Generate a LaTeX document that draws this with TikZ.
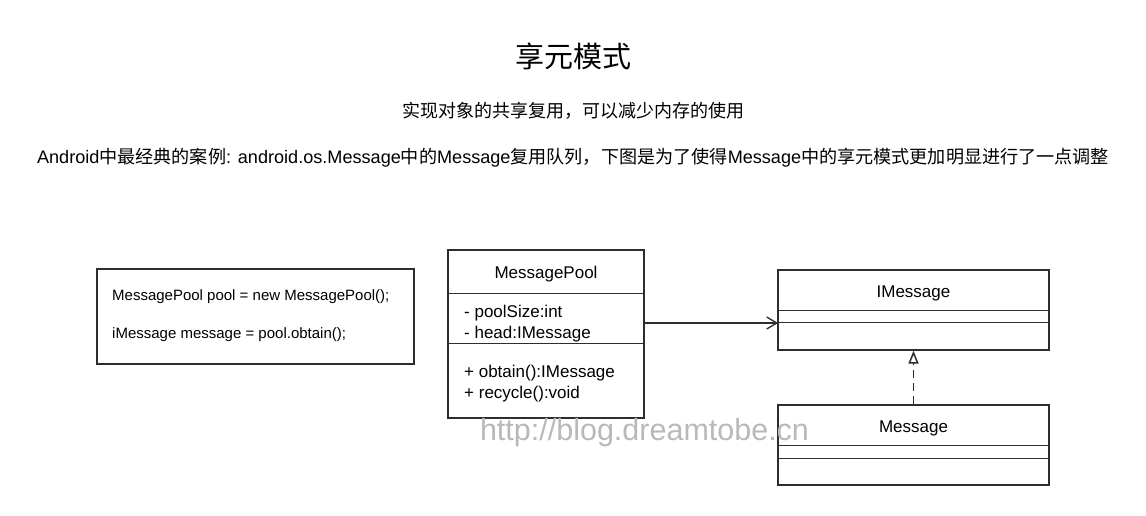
\documentclass[tikz,border=0pt]{standalone}
\usepackage{fontspec}
\setmainfont{Liberation Sans}
\newfontfamily\cjk{Noto Sans CJK SC}
\usetikzlibrary{arrows.meta}
\pgfdeclarelayer{edgelayer}
\pgfdeclarelayer{nodelayer}
\pgfsetlayers{edgelayer,nodelayer,main}
\definecolor{ink}{RGB}{45,45,45}
\definecolor{wmark}{RGB}{185,185,185}
\tikzset{x=1pt,y=-1pt}
\tikzstyle{none}=[inner sep=0pt]
\tikzstyle{box}=[draw=ink,line width=1.3pt,rectangle,inner sep=0pt]
\tikzstyle{sep}=[draw=ink,line width=1.3pt]
\tikzstyle{label}=[inner sep=0pt,anchor=base west,font=\fontsize{17}{20}\selectfont]
\tikzstyle{cls}=[inner sep=0pt,anchor=base,font=\fontsize{17}{20}\selectfont]
\tikzstyle{code}=[inner sep=0pt,anchor=base west,font=\fontsize{15}{18}\selectfont]

\begin{document}
\begin{tikzpicture}
	\useasboundingbox (0,0) rectangle (1146,516);
	\begin{pgfonlayer}{nodelayer}
		% headings
		\node [style=none,font=\cjk\fontsize{29}{34}\selectfont] (t0) at (573,56) {享元模式};
		\node [style=none,font=\cjk\fontsize{18}{22}\selectfont] (t1) at (573,111) {实现对象的共享复用，可以减少内存的使用};
		\node [style=none,font=\fontsize{18.1}{22}\selectfont] (t2) at (573,158) {Android{\cjk 中最经典的案例}: android.os.Message{\cjk 中的}Message{\cjk 复用队列，下图是为了使得}Message{\cjk 中的享元模式更加明显进行了一点调整}};
		% client code
		\node [style=box,minimum width=317,minimum height=95] (0) at (255.5,316.5) {};
		\node [style=code] (c1) at (112,300) {MessagePool pool = new MessagePool();};
		\node [style=code] (c2) at (112,338) {iMessage message = pool.obtain();};
		% MessagePool
		\node [style=box,minimum width=196,minimum height=168] (1) at (546,334) {};
		\node [style=cls] (n1) at (546,278) {MessagePool};
		\node [style=label] (a1) at (464,317) {- poolSize:int};
		\node [style=label] (a2) at (464,338) {- head:IMessage};
		\node [style=label] (m1) at (464,377) {+ obtain():IMessage};
		\node [style=label] (m2) at (464,398) {+ recycle():void};
		% IMessage
		\node [style=box,minimum width=271,minimum height=80] (2) at (913.5,310) {};
		\node [style=cls] (n2) at (913.5,297) {IMessage};
		% Message
		\node [style=box,minimum width=271,minimum height=80] (3) at (913.5,445) {};
		\node [style=cls] (n3) at (913.5,432) {Message};
		% arrow ends
		\node [style=none] (4) at (645,323) {};
		\node [style=none] (5) at (778,323) {};
		% watermark
		\node [style=none,text=wmark,font=\fontsize{30.5}{34}\selectfont] (w) at (644.5,433) {http://blog.dreamtobe.cn};
	\end{pgfonlayer}
	\begin{pgfonlayer}{edgelayer}
		\draw[style=sep] ([yshift=-44]1.north west) to ([yshift=-44]1.north east);
		\draw[style=sep] ([yshift=-94]1.north west) to ([yshift=-94]1.north east);
		\draw[style=sep] ([yshift=-41]2.north west) to ([yshift=-41]2.north east);
		\draw[style=sep] ([yshift=-53]2.north west) to ([yshift=-53]2.north east);
		\draw[style=sep] ([yshift=-41]3.north west) to ([yshift=-41]3.north east);
		\draw[style=sep] ([yshift=-54]3.north west) to ([yshift=-54]3.north east);
		\draw[draw=ink,line width=1.3pt,-{Straight Barb[length=10,width=12]}] (4.center) to (5.center);
		\draw[draw=ink,line width=1.5pt,dash pattern=on 8pt off 5pt,-{Triangle[open,length=13,width=10]}] (3.north) to (2.south);
	\end{pgfonlayer}
\end{tikzpicture}
\end{document}
